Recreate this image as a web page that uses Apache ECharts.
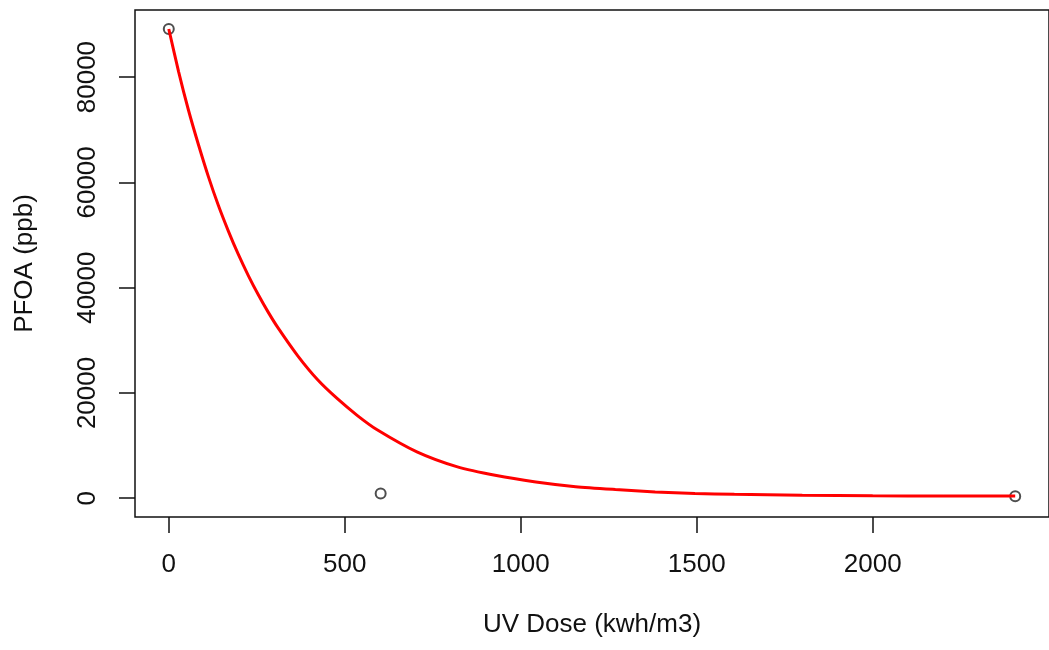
<!DOCTYPE html>
<html>
<head>
<meta charset="utf-8">
<script src="https://cdn.jsdelivr.net/npm/echarts@6/dist/echarts.min.js"></script>
<style>
html,body{margin:0;padding:0;background:#fff;}
#chart{width:1049px;height:650px;}
</style>
</head>
<body>
<div id="chart"></div>
<script>
// Observed data points (UV dose, PFOA)
const obsDose = [0, 602, 2405];
const obsPFOA = [89130, 890, 380];

// Fitted curve
const fitDose = [0, 28, 56, 85, 113, 141, 169, 197, 226, 254, 282, 310, 367, 423, 479, 536, 592, 705, 818, 931, 1043, 1156, 1269, 1382, 1495, 1607, 1700, 1800, 2000, 2200, 2405];
const fitPFOA = [89130, 81000, 73700, 67000, 61000, 55600, 50800, 46400, 42300, 38700, 35400, 32400, 27000, 22500, 18900, 15700, 13000, 8800, 6000, 4300, 3100, 2200, 1650, 1200, 900, 750, 650, 560, 470, 420, 400];

// Tick labels
const xTicks = [0, 500, 1000, 1500, 2000];
const yTicks = [0, 20000, 40000, 60000, 80000];

const font = 'Liberation Sans, Arial, sans-serif';
const chart = echarts.init(document.getElementById('chart'), null, {renderer: 'canvas'});
chart.setOption({
  animation: false,
  backgroundColor: '#fff',
  grid: {
    left: 135, right: -8, top: 10, bottom: 133,
    show: true, borderColor: '#111', borderWidth: 1.5, backgroundColor: 'transparent'
  },
  xAxis: {
    type: 'value',
    min: -96, max: 2501,
    name: 'UV Dose (kwh/m3)',
    nameLocation: 'middle',
    nameGap: 95,
    nameTextStyle: {fontFamily: font, fontSize: 26, color: '#111', lineHeight: 26},
    splitLine: {show: false},
    axisLine: {show: false, onZero: false},
    axisTick: {show: true, inside: false, customValues: xTicks, length: 16, lineStyle: {color: '#111', width: 1.5}},
    axisLabel: {customValues: xTicks, margin: 35, fontFamily: font, fontSize: 26, color: '#111', lineHeight: 26,
      formatter: v => String(v)}
  },
  yAxis: {
    type: 'value',
    min: -3567, max: 92747,
    name: 'PFOA (ppb)',
    nameLocation: 'middle',
    nameGap: 97,
    nameTextStyle: {fontFamily: font, fontSize: 26, color: '#111', lineHeight: 26},
    splitLine: {show: false},
    axisLine: {show: false, onZero: false},
    axisTick: {show: true, inside: false, customValues: yTicks, length: 16, lineStyle: {color: '#111', width: 1.5}},
    axisLabel: {customValues: yTicks, rotate: 90, margin: 34, fontFamily: font, fontSize: 26, color: '#111', lineHeight: 26,
      formatter: v => String(v)}
  },
  series: [
    {
      type: 'scatter',
      z: 1,
      data: obsDose.map((d, i) => [d, obsPFOA[i]]),
      symbol: 'emptyCircle',
      symbolSize: 10,
      itemStyle: {color: '#222', borderColor: '#222', borderWidth: 1.4}
    },
    {
      type: 'line',
      z: 2,
      data: fitDose.map((d, i) => [d, fitPFOA[i]]),
      showSymbol: false,
      symbol: 'none',
      smooth: 0.25,
      lineStyle: {color: '#ff0000', width: 3}
    }
  ]
});
</script>
</body>
</html>
